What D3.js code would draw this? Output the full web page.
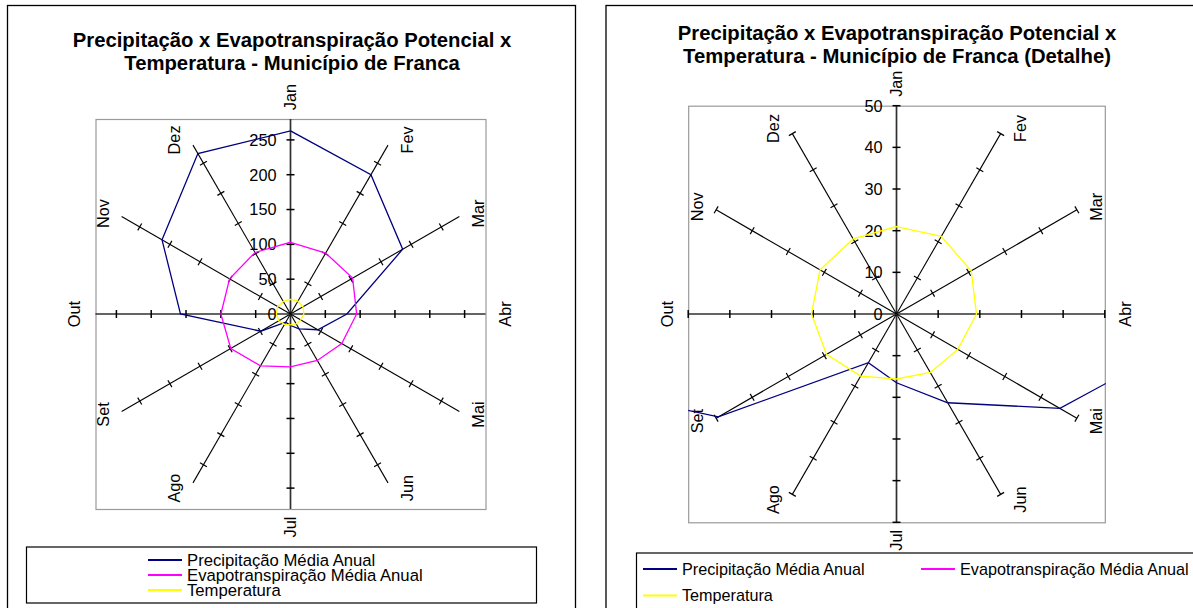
<!DOCTYPE html>
<html>
<head>
<meta charset="utf-8">
<script src="https://cdn.jsdelivr.net/npm/d3@7"></script>
<style>
  html, body { margin: 0; padding: 0; background: #fff; }
  svg { display: block; }
  text { font-family: "Liberation Sans", Arial, sans-serif; fill: #000; }
</style>
</head>
<body>
<svg id="chart" width="1193" height="608"></svg>
<script>
// Monthly climate normals for Franca (SP)
const meses = ["Jan", "Fev", "Mar", "Abr", "Mai", "Jun", "Jul", "Ago", "Set", "Out", "Nov", "Dez"];
const precipitacao = [263, 231, 186, 81, 45.3, 24.6, 16.5, 13.5, 49.4, 158, 213, 266];
const evapotranspiracao = [103, 101, 103, 95, 85, 77, 76, 86, 99, 100, 101, 102];
const temperatura = [21.0, 21.5, 20.7, 19.2, 17.0, 16.2, 15.6, 17.2, 19.4, 20.4, 21.2, 20.8];

const seriesNomes = ["Precipitação Média Anual", "Evapotranspiração Média Anual", "Temperatura"];
const seriesCores = ["#000080", "#ff00ff", "#ffff00"];

// Value-axis ticks of the full view and of the detail view
const ticksGeral = [0, 50, 100, 150, 200, 250];
const maxGeral = 280;
const ticksDetalhe = [0, 10, 20, 30, 40, 50];
const maxDetalhe = 50;

const svg = d3.select("#chart");

function radar(cfg) {
  const g = svg.append("g");
  const series = [precipitacao, evapotranspiracao, temperatura];

  // chart frame
  g.append("rect")
    .attr("x", cfg.frame[0] + 0.5).attr("y", cfg.frame[1] + 0.5)
    .attr("width", cfg.frame[2]).attr("height", cfg.frame[3])
    .attr("fill", "#fff").attr("stroke", "#000").attr("stroke-width", 1.3);

  // title
  const t = g.append("text")
    .attr("text-anchor", "middle")
    .style("font-weight", "bold").style("font-size", "20.3px");
  cfg.title.forEach((line, i) => {
    t.append("tspan").attr("x", cfg.titleX).attr("y", cfg.titleY + i * 23).text(line);
  });

  const cx = cfg.cx, cy = cfg.cy, R = cfg.R;
  const r = d3.scaleLinear().domain([0, cfg.max]).range([0, R]);
  const ang = d3.scalePoint().domain(meses).range([0, 2 * Math.PI * 11 / 12]);

  // plot area
  g.append("rect")
    .attr("x", cx - R + 0.5).attr("y", cy - R + 0.5)
    .attr("width", 2 * R).attr("height", 2 * R)
    .attr("fill", "none").attr("stroke", "#9a9a9a").attr("stroke-width", 1.2);

  const clipId = "clip" + cfg.id;
  svg.append("clipPath").attr("id", clipId)
    .append("rect").attr("x", cx - R).attr("y", cy - R)
    .attr("width", 2 * R + 1).attr("height", 2 * R + 1);

  const plot = g.append("g").attr("transform", `translate(${cx},${cy})`);

  // spokes with cross ticks
  meses.forEach((m, i) => {
    const a = ang(m);
    const ux = Math.sin(a), uy = -Math.cos(a);
    const main = i % 3 === 0;
    plot.append("line")
      .attr("x1", 0).attr("y1", 0)
      .attr("x2", ux * R).attr("y2", uy * R)
      .attr("stroke", main ? "#303030" : "#000")
      .attr("stroke-width", main ? 1.7 : 1.1);
    cfg.ticks.filter(v => v > 0).forEach(v => {
      const px = ux * r(v), py = uy * r(v);
      plot.append("line")
        .attr("x1", px - uy * 4).attr("y1", py + ux * 4)
        .attr("x2", px + uy * 4).attr("y2", py - ux * 4)
        .attr("stroke", "#000").attr("stroke-width", main ? 1.5 : 1.2);
    });
  });

  // value labels along the Jan axis
  plot.selectAll("text.val").data(cfg.ticks).enter().append("text")
    .attr("class", "val")
    .attr("x", -14).attr("y", d => -r(d))
    .attr("text-anchor", "end").attr("dy", "0.36em")
    .style("font-size", "16.3px")
    .text(d => d);

  // month labels, rotated
  meses.forEach((m, i) => {
    const a = ang(m);
    const ux = Math.sin(a), uy = -Math.cos(a);
    let x = ux * R, y = uy * R;
    if (i === 0) y -= 22;
    else if (i === 6) y += 18;
    else if (i === 3) x += 20;
    else if (i === 9) x -= 21;
    else { x += Math.sign(ux) * 19; y += uy * 6; }
    plot.append("text")
      .attr("transform", `translate(${x},${y}) rotate(-90)`)
      .attr("text-anchor", "middle").attr("dy", "0.36em")
      .style("font-size", "16.3px")
      .text(m);
  });

  // data series
  const line = d3.lineRadial()
    .angle((d, i) => ang(meses[i]))
    .radius(d => r(d))
    .curve(d3.curveLinearClosed);
  const clipped = g.append("g").attr("clip-path", `url(#${clipId})`)
    .append("g").attr("transform", `translate(${cx},${cy})`);
  series.forEach((s, k) => {
    clipped.append("path")
      .attr("d", line(s))
      .attr("fill", "none")
      .attr("stroke", seriesCores[k])
      .attr("stroke-width", 1.3);
  });

  // legend
  const L = cfg.legend;
  g.append("rect")
    .attr("x", L.box[0] + 0.5).attr("y", L.box[1] + 0.5)
    .attr("width", L.box[2]).attr("height", L.box[3])
    .attr("fill", "#fff").attr("stroke", "#000").attr("stroke-width", 1.2);
  seriesNomes.forEach((nome, k) => {
    const [lx, ly] = L.pos[k];
    g.append("line")
      .attr("x1", lx).attr("x2", lx + 34).attr("y1", ly).attr("y2", ly)
      .attr("stroke", seriesCores[k]).attr("stroke-width", 2);
    g.append("text")
      .attr("x", lx + 39).attr("y", ly).attr("dy", "0.36em")
      .style("font-size", L.font)
      .text(nome);
  });
}

radar({
  id: "geral",
  frame: [7, 5, 568, 620],
  title: ["Precipitação x Evapotranspiração Potencial x", "Temperatura - Município de Franca"],
  titleX: 292, titleY: 47,
  cx: 290.5, cy: 314, R: 195,
  max: maxGeral, ticks: ticksGeral,
  legend: {
    font: "16.7px",
    box: [26, 546.5, 510, 56],
    pos: [[148, 560], [148, 575], [148, 590]]
  }
});

radar({
  id: "detalhe",
  frame: [605.5, 5, 620, 620],
  title: ["Precipitação x Evapotranspiração Potencial x", "Temperatura - Município de Franca (Detalhe)"],
  titleX: 897, titleY: 40,
  cx: 896.5, cy: 314, R: 208.3,
  max: maxDetalhe, ticks: ticksDetalhe,
  legend: {
    font: "16.2px",
    box: [636, 552.5, 600, 80],
    pos: [[643, 569], [921, 569], [643, 595.5]]
  }
});
</script>
</body>
</html>
